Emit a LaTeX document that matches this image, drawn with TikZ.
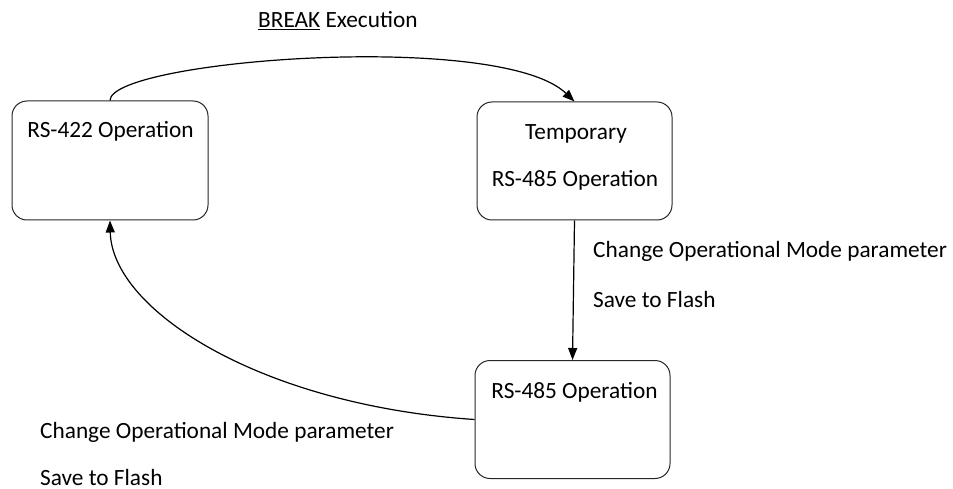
\documentclass[tikz,border=0pt]{standalone}
\usepackage{fontspec}
\setmainfont{Carlito}
\usetikzlibrary{arrows.meta}
\begin{document}
\begin{tikzpicture}[x=1pt,y=-1pt,
  statebox/.style={draw=black!85, line width=1pt, rounded corners=15pt, inner sep=0pt},
  lbl/.style={font=\fontsize{23.3}{28}\selectfont, inner sep=0pt, anchor=base},
  conn/.style={line width=1.2pt, -{Triangle[length=12pt,width=9pt]}}]
\useasboundingbox (0,0) rectangle (953,489);
\node[statebox, minimum width=196pt, minimum height=119pt] (A) at (110,160.5) {};
\node[statebox, minimum width=195pt, minimum height=118pt] (B) at (574.5,161) {};
\node[statebox, minimum width=195pt, minimum height=118pt] (C) at (572.5,419.5) {};
\node[lbl] (tA) at (110.5,138) {RS-422 Operation};
\node[lbl] (tB1) at (576,140) {Temporary};
\node[lbl] (tB2) at (575,187) {RS-485 Operation};
\node[lbl] (tC) at (574.5,398) {RS-485 Operation};
\node[lbl, anchor=base west] (brk) at (258,28) {\underline{BREAK} Execution};
\node[lbl, anchor=base west] (r1) at (593,258) {Change Operational Mode parameter};
\node[lbl, anchor=base west] (r2) at (593,307) {Save to Flash};
\node[lbl, anchor=base west] (l1) at (40,438) {Change Operational Mode parameter};
\node[lbl, anchor=base west] (l2) at (40,485) {Save to Flash};
\draw[conn] (A.north) .. controls (110,60) and (500,30) .. (B.north);
\draw[conn] (B.south) -- (C.north);
\draw[conn] (C.west) .. controls (260,405) and (112,310) .. (A.south);
\end{tikzpicture}
\end{document}
